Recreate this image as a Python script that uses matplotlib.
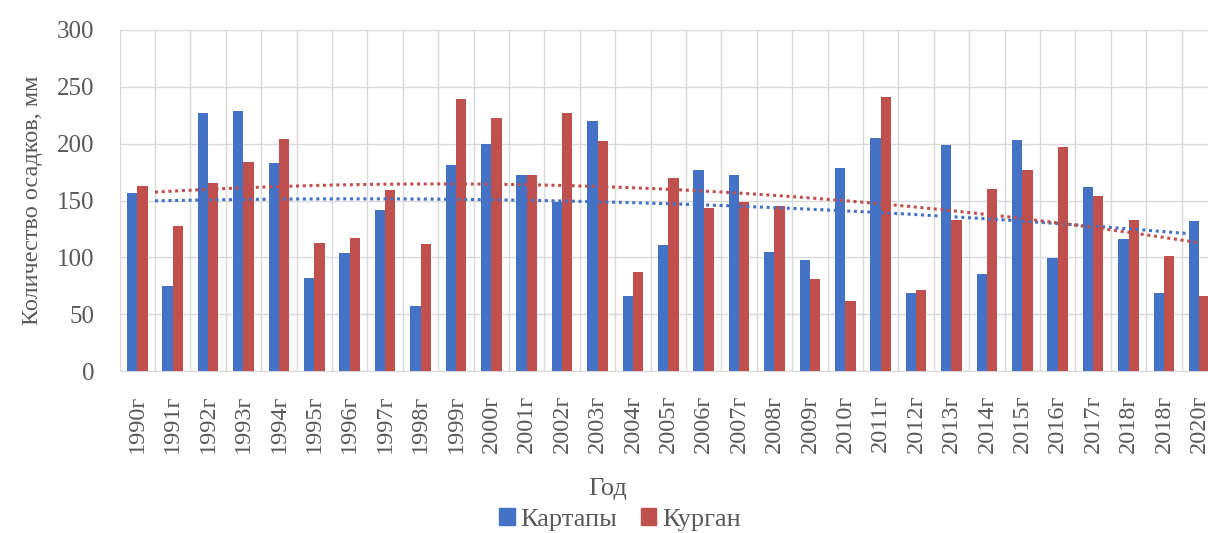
import matplotlib.pyplot as plt
import numpy as np
from matplotlib.patches import Patch

# Precipitation totals, mm
years = ["1990г", "1991г", "1992г", "1993г", "1994г", "1995г", "1996г", "1997г",
         "1998г", "1999г", "2000г", "2001г", "2002г", "2003г", "2004г", "2005г",
         "2006г", "2007г", "2008г", "2009г", "2010г", "2011г", "2012г", "2013г",
         "2014г", "2015г", "2016г", "2017г", "2018г", "2018г", "2020г"]
kartaly = [157, 75, 227, 229, 183, 82, 104, 142, 57, 181, 200, 172, 149, 220, 66,
           111, 177, 172, 105, 98, 179, 205, 69, 199, 85, 203, 99, 162, 116, 69, 132]
kurgan = [163, 128, 165, 184, 204, 113, 117, 159, 112, 239, 223, 172, 227, 202, 87,
          170, 143, 149, 145, 81, 62, 241, 71, 133, 160, 177, 197, 154, 133, 101, 66]

BLUE = "#4472C4"
RED = "#C0504D"
TEXT = "#595959"
GRID = "#D9D9D9"

plt.rcParams["font.family"] = ["Liberation Serif", "DejaVu Serif"]

fig = plt.figure(figsize=(12.08, 5.33), dpi=100)
ax = fig.add_axes([119.6 / 1208, 1 - 371 / 533, (1217 - 119.6) / 1208, (371 - 30) / 533])

x = np.arange(len(years))
w = 0.29
ax.bar(x - w / 2, kartaly, w, color=BLUE, zorder=3)
ax.bar(x + w / 2, kurgan, w, color=RED, zorder=3)

# polynomial (order 2) trend lines
for vals, col in ((kartaly, BLUE), (kurgan, RED)):
    coef = np.polyfit(x, vals, 2)
    xs = np.linspace(0.5, x[-1], 200)
    ax.plot(xs, np.polyval(coef, xs), color=col, ls=(0, (1, 1.2)), lw=2.2, zorder=4)

ax.set_xlim(-0.5, len(years) - 0.5)
ax.set_ylim(0, 300)
ax.set_yticks(range(0, 301, 50))
ax.set_xticks(x)
ax.set_xticklabels(years, rotation=90, fontsize=17.5, color=TEXT)
ax.tick_params(axis="y", labelsize=18, labelcolor=TEXT, length=0, pad=18)
ax.tick_params(axis="x", length=0, pad=17)

# category separators and value grid
ax.set_xticks(np.arange(-0.5, len(years)), minor=True)
ax.tick_params(axis="x", which="minor", length=0)
ax.grid(axis="y", color=GRID, lw=1, zorder=0)
ax.grid(axis="x", which="minor", color=GRID, lw=1, zorder=0)
ax.grid(axis="x", which="major", visible=False)
for s in ("top", "right", "left"):
    ax.spines[s].set_visible(False)
ax.spines["bottom"].set_color(GRID)

ax.set_ylabel("Количество осадков, мм", fontsize=17.5, color=TEXT, labelpad=10)
fig.text(0.503, 0.083, "Год", ha="center", va="center", fontsize=19, color=TEXT)

handles = [Patch(color=BLUE, label="Картапы"), Patch(color=RED, label="Курган")]
fig.legend(handles=handles, loc="center", bbox_to_anchor=(0.513, 0.025), ncol=2,
           frameon=False, fontsize=19, labelcolor=TEXT, handlelength=0.6,
           handleheight=0.6, handletextpad=0.2, columnspacing=0.9)

fig.savefig("out.png", dpi=100)
